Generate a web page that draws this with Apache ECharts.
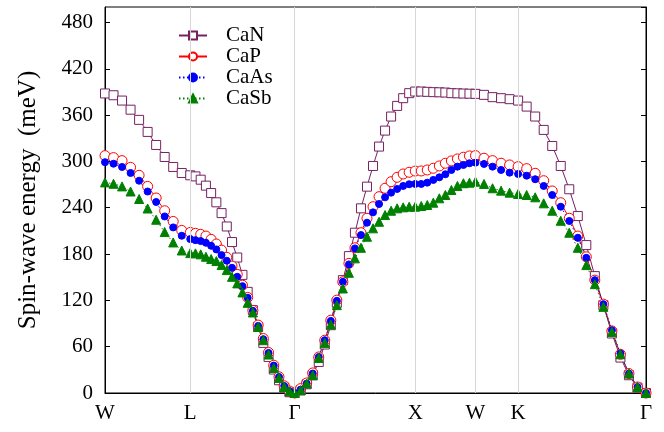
<!DOCTYPE html>
<html>
<head>
<meta charset="utf-8">
<script src="https://cdn.jsdelivr.net/npm/echarts@6/dist/echarts.min.js"></script>
<style>
  html, body { margin: 0; padding: 0; background: #fff; }
  #chart { width: 664px; height: 432px; }
</style>
</head>
<body>
<div id="chart"></div>
<script>
// k-path W-L-Γ-X-W-K-Γ (lengths in 2π/a, number of steps per segment)
const symLabels = ['W', 'L', 'Γ', 'X', 'W', 'K', 'Γ'];
const segLength = [0.7071, 0.8660, 1.0, 0.5, 0.3536, 1.0607];
const segSteps = [10, 20, 20, 10, 5, 15];

const yTicks = [0, 60, 120, 180, 240, 300, 360, 420, 480];

// spin-wave energies (meV)
const caN = [
  388, 385.7, 378.8, 367, 353.8, 338.2, 321.3, 305.7, 292.8, 285, 282,
  280.6, 276.3, 268.6, 259, 247, 233, 215.7, 195.5, 175.5, 153,
  131, 107.3, 85.6, 64.9, 46.7, 30.4, 16.5, 7, 1, 0,
  3.5, 11.3, 23, 40.2, 62.8, 87.8, 116.8, 146.2, 177.3, 207.6,
  239.2, 267.3, 294.1, 319.2, 339.9, 358.1, 371.9, 381.9, 388.4, 390.5,
  390.5, 390.1, 389.7, 389.5, 389.2, 388.4, 388.2, 387.9, 387.7, 387.5,
  386.2, 383.2, 381.9, 380.6, 378.8,
  371, 358.1, 340.8, 320, 294.1, 263.9, 229.2, 191.6, 151.4, 113.8, 77.1, 45.9, 23, 7, 0
];
const caP = [
  307.5, 304.9, 301, 292.3, 282, 267.6, 252.6, 236.1, 222.2, 210.6, 208,
  206.8, 205.5, 203.3, 199, 193, 185, 175.7, 164.4, 153.6, 139.7,
  123.8, 107, 88, 70.5, 52.5, 36, 21, 9.3, 2.6, 0,
  5.7, 13, 26, 46.7, 68.4, 94.3, 120.3, 144, 167.9, 188.1,
  207.6, 226.3, 241.3, 254.3, 265.2, 273.7, 279.4, 283.7, 285.9, 287.5,
  287.6, 288.9, 291.1, 294.1, 297.6, 300.6, 303.2, 305.4, 307.1, 307.5,
  304.1, 301, 297.6, 295.4, 293.2,
  290.6, 284.6, 275, 261.7, 246.5, 226.3, 203.3, 176.4, 146.2, 115.1, 80.4, 50.2, 25.2, 7.8, 0
];
const caAs = [
  299, 297, 292.8, 285, 275, 261, 247.4, 228.7, 214.5, 203.7, 199.4,
  198, 196.8, 194.6, 190.7, 186, 178.6, 171.3, 162.2, 150.5, 138.4,
  123.3, 106.4, 86.9, 69.7, 51.9, 35.5, 20.8, 9.1, 2.6, 0,
  4.4, 12.2, 25.2, 46.7, 68.4, 93.4, 119.4, 144, 166.6, 187.3,
  204.6, 220.6, 234, 244.8, 253.5, 259.5, 264.3, 268.2, 270.4, 270.8,
  270.8, 272.5, 276, 279.4, 283.3, 288.9, 293.2, 295.4, 297.6, 298.4,
  296.7, 293.2, 288.9, 285.4, 283.7,
  281.5, 276.9, 268.2, 256.5, 241.3, 222.8, 201.1, 175.1, 146.2, 115.1, 81.3, 51.1, 25.2, 7.8, 0
];
const caSb = [
  272.8, 271, 267.6, 261, 251.3, 239, 224.4, 208.5, 195, 184.6, 181.2,
  180.9, 179.6, 176.5, 173.5, 170.9, 165.7, 159.2, 150.5, 142, 130.3,
  116.8, 104.3, 85.6, 68.4, 49.8, 32.4, 19.5, 7.8, 2.2, 0,
  3.5, 12.2, 23, 45.4, 64.9, 88.7, 113.8, 135.4, 155.7, 174.4,
  188.1, 202.4, 213.3, 221.8, 230.5, 236.1, 239.2, 240.5, 241.3, 241.3,
  242.2, 243.5, 246.5, 252.2, 256.5, 263, 268.2, 271.7, 272.4, 273.7,
  270.8, 265.2, 262.1, 259.5, 257.8,
  256.5, 253.5, 245.7, 236.1, 223.1, 207.6, 188.1, 165.7, 141, 111.6, 79.1, 50.2, 25.2, 7.8, 0
];

// k positions of the grid points and of the symmetry points
const kPos = [0];
const symPos = [0];
segLength.forEach((len, s) => {
  const start = symPos[s];
  for (let i = 1; i <= segSteps[s]; i++) kPos.push(start + (len * i) / segSteps[s]);
  symPos.push(start + len);
});

const font = "'Liberation Serif', 'Times New Roman', serif";
const chart = echarts.init(document.getElementById('chart'));

const makeSeries = (name, values, color, symbol, size, dotted, filled) => ({
  name,
  type: 'line',
  data: kPos.map((k, i) => [k, values[i]]),
  symbol,
  symbolSize: size,
  showAllSymbol: true,
  lineStyle: { color, width: 1, type: dotted ? [1.5, 2.5] : 'solid' },
  itemStyle: { color: filled ? color : '#fff', borderColor: color, borderWidth: 1 },
  z: 3,
});

const option = {
  animation: false,
  backgroundColor: '#fff',
  grid: {
    left: 105, right: 18, top: 7, bottom: 39,
    show: true, borderColor: '#000', borderWidth: 1,
    outerBoundsMode: 'none',
  },
  legend: {
    orient: 'vertical',
    left: 178,
    top: 25,
    padding: 0,
    itemWidth: 28,
    itemHeight: 10,
    itemGap: 0,
    data: ['CaN', 'CaP', 'CaAs', 'CaSb'],
    textStyle: { fontFamily: font, fontSize: 21, color: '#000', lineHeight: 20, padding: [0, 0, 0, 14] },
  },
  xAxis: {
    type: 'value',
    min: 0,
    max: symPos[symPos.length - 1],
    axisLine: { show: true, lineStyle: { color: '#000', width: 1 } },
    axisTick: { show: false },
    splitLine: { show: false },
    axisLabel: {
      customValues: symPos,
      fontFamily: font,
      fontSize: 21,
      color: '#000',
      margin: 10,
      formatter: (v) => {
        let best = 0;
        symPos.forEach((p, i) => { if (Math.abs(p - v) < Math.abs(symPos[best] - v)) best = i; });
        return symLabels[best];
      },
    },
  },
  yAxis: [
    {
      type: 'value',
      min: 0,
      max: 500,
      interval: 60,
      name: 'Spin-wave energy  (meV)',
      nameLocation: 'middle',
      nameGap: 64,
      nameTextStyle: { fontFamily: font, fontSize: 25, color: '#000' },
      axisLine: { show: true, lineStyle: { color: '#000', width: 1 } },
      axisTick: { show: true, inside: true, length: 5, lineStyle: { color: '#000' } },
      splitLine: { show: false },
      axisLabel: {
        showMaxLabel: false,
        fontFamily: font,
        fontSize: 21,
        color: '#000',
        margin: 12,
        formatter: (v) => (yTicks.includes(v) ? String(v) : ''),
      },
    },
    {
      type: 'value',
      position: 'right',
      min: 0,
      max: 500,
      interval: 60,
      axisLine: { show: true, lineStyle: { color: '#000', width: 1 } },
      axisTick: { show: true, inside: true, length: 5, lineStyle: { color: '#000' } },
      axisLabel: { show: false },
      splitLine: { show: false },
    },
  ],
  series: [
    {
      name: 'grid',
      type: 'line',
      data: [],
      silent: true,
      z: 1,
      markLine: {
        silent: true,
        symbol: 'none',
        label: { show: false },
        lineStyle: { color: '#d6d6d6', width: 1, type: 'solid' },
        data: symPos.slice(1, -1).map((v) => ({ xAxis: v })),
      },
    },
    makeSeries('CaN', caN, '#752263', 'rect', 9, false, false),
    makeSeries('CaP', caP, '#ff0000', 'circle', 10, false, false),
    makeSeries('CaAs', caAs, '#0000ff', 'circle', 7, true, true),
    makeSeries('CaSb', caSb, '#008000', 'triangle', 9, true, true),
  ],
};

chart.setOption(option);
</script>
</body>
</html>
